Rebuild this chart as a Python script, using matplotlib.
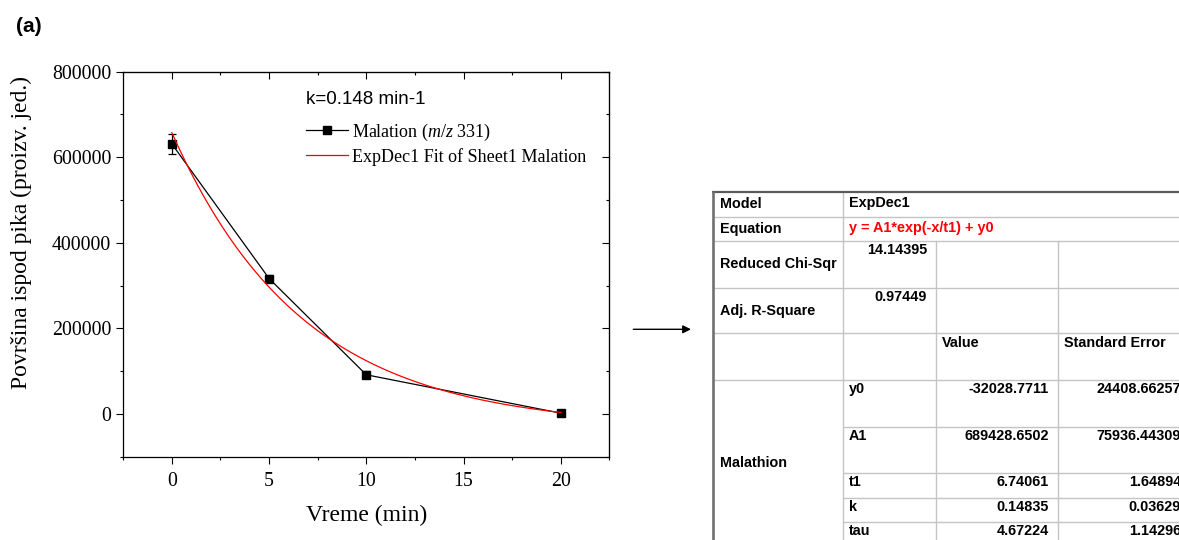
import numpy as np
import matplotlib
matplotlib.use("Agg")
import matplotlib.pyplot as plt
from matplotlib.ticker import MultipleLocator, FixedLocator

# ---------------- data ----------------
time_min = [0, 5, 10, 20]
peak_area = [631000, 316500, 91500, 1800]
peak_err = [24500, 8000, 8000, 2000]

x_ticks = [0, 5, 10, 15, 20]
y_ticks = [0, 200000, 400000, 600000, 800000]

series_label = r"Malation ($m/z$ 331)"
fit_label = "ExpDec1 Fit of Sheet1 Malation"
k_text = "k=0.148 min-1"

# fit report table
model_name = "ExpDec1"
equation = "y = A1*exp(-x/t1) + y0"
red_chi_sqr = "14.14395"
adj_r_sq = "0.97449"
param_names = ["y0", "A1", "t1", "k", "tau"]
param_values = ["-32028.7711", "689428.6502", "6.74061", "0.14835", "4.67224"]
param_errors = ["24408.66257", "75936.44309", "1.64894", "0.03629", "1.14296"]
fit_y0 = -32028.7711
fit_A1 = 689428.6502
fit_t1 = 6.74061

# ---------------- style ----------------
plt.rcParams["font.family"] = ["Liberation Serif", "DejaVu Serif"]
plt.rcParams["mathtext.fontset"] = "custom"
plt.rcParams["mathtext.rm"] = "Liberation Serif"
plt.rcParams["mathtext.it"] = "Liberation Serif:italic"

W, H = 1179, 540
fig = plt.figure(figsize=(W / 100, H / 100), dpi=100)

L, R, T, B = 123.3, 609.3, 71.7, 456.7
ax = fig.add_axes([L / W, 1 - B / H, (R - L) / W, (B - T) / H])

eb = ax.errorbar(time_min, peak_area, yerr=peak_err, fmt="-s", color="black",
                 ms=6, lw=0.9, elinewidth=0.9, capsize=3, capthick=0.9,
                 zorder=3)
xf = np.linspace(time_min[0], time_min[-1], 300)
fit_line, = ax.plot(xf, fit_A1 * np.exp(-xf / fit_t1) + fit_y0, color="red",
                    lw=0.9, zorder=4)

ax.set_xlim(-2.5, 22.5)
ax.set_ylim(-100000, 800000)
ax.xaxis.set_major_locator(FixedLocator(x_ticks))
ax.xaxis.set_minor_locator(MultipleLocator(2.5))
ax.yaxis.set_major_locator(FixedLocator(y_ticks))
ax.yaxis.set_minor_locator(MultipleLocator(100000))
ax.ticklabel_format(axis="y", style="plain", useOffset=False)
for s in ax.spines.values():
    s.set_linewidth(0.9)
ax.tick_params(which="major", direction="out", length=4.8, width=0.8,
               labelsize=14.3, pad=4)
ax.tick_params(axis="x", which="major", pad=6)
ax.tick_params(which="minor", direction="out", length=2.3, width=0.8)

secx = ax.secondary_xaxis("top")
secx.xaxis.set_major_locator(FixedLocator(x_ticks))
secx.xaxis.set_minor_locator(MultipleLocator(2.5))
secx.tick_params(which="major", direction="in", length=4.8, width=0.8, labeltop=False)
secx.tick_params(which="minor", direction="in", length=2.3, width=0.8)
secy = ax.secondary_yaxis("right")
secy.yaxis.set_major_locator(FixedLocator(y_ticks))
secy.yaxis.set_minor_locator(MultipleLocator(100000))
secy.tick_params(which="major", direction="in", length=4.8, width=0.8, labelright=False)
secy.tick_params(which="minor", direction="in", length=2.3, width=0.8)

ax.set_xlabel("Vreme (min)", fontsize=17)
ax.xaxis.set_label_coords(366.3 / W, 1 - 515.5 / H, transform=fig.transFigure)
ax.xaxis.label.set_va("center")
ax.set_ylabel("Površina ispod pika (proizv. jed.)", fontsize=17)
ax.yaxis.set_label_coords(21.7 / W, 1 - 232.5 / H, transform=fig.transFigure)
ax.yaxis.label.set_va("center")

leg = ax.legend([eb.lines[0], fit_line], [series_label, fit_label],
                loc="upper left", bbox_to_anchor=(306 / W, 1 - 121.5 / H),
                bbox_transform=fig.transFigure, frameon=False, fontsize=13,
                handlelength=2.3, handletextpad=0.25, labelspacing=0.28,
                borderpad=0, borderaxespad=0)
fig.text(306 / W, 1 - 100 / H, k_text, fontsize=13.5, va="center", ha="left",
         family=["Liberation Sans", "DejaVu Sans"])

fig.text(29 / W, 1 - 27 / H, "(a)", fontsize=15, fontweight="bold", va="center",
         ha="center", family=["Liberation Sans", "DejaVu Sans"])

# ---------------- overlay (arrow + table) ----------------
tax = fig.add_axes([0, 0, 1, 1])
tax.set_xlim(0, W)
tax.set_ylim(H, 0)
tax.axis("off")

tax.annotate("", xy=(691, 329.3), xytext=(633.3, 329.3),
             arrowprops=dict(arrowstyle="-|>", color="black", lw=1.0,
                             mutation_scale=12, shrinkA=0, shrinkB=0))

inner = "#c4c4c4"
ilw = 1.0
c0, c1, c2, c3 = 713.3, 843.3, 935.7, 1058.3
r_model, r_eq, r_rc, r_adj, r_hdr, r_y0 = 191.7, 217.3, 241.0, 287.7, 333.3, 380.3
r_param = [380.3, 426.7, 473.3, 497.7, 521.7]
bottom = 545

for yy in [r_eq, r_rc, r_adj, r_hdr, r_y0]:
    tax.plot([c0, W + 5], [yy, yy], color=inner, lw=ilw, solid_capstyle="butt")
for yy in r_param[1:]:
    tax.plot([c1, W + 5], [yy, yy], color=inner, lw=ilw, solid_capstyle="butt")
tax.plot([c1, c1], [r_model, bottom], color=inner, lw=ilw)
for cc in [c2, c3]:
    tax.plot([cc, cc], [r_rc, bottom], color=inner, lw=ilw)
tax.plot([c0 - 1, W + 5], [r_model, r_model], color="#5a5a5a", lw=1.6,
         solid_capstyle="butt")
tax.plot([c0, c0], [r_model - 0.5, bottom], color="#707070", lw=1.9,
         solid_capstyle="butt")

tf = dict(fontsize=10.4, fontweight="bold", family=["Liberation Sans", "DejaVu Sans"],
          va="center")
tax.text(720, 204.5, "Model", ha="left", **tf)
tax.text(849, 203, model_name, ha="left", **tf)
tax.text(720, 229, "Equation", ha="left", **tf)
tax.text(849, 228, equation, ha="left", color="red", **tf)
tax.text(720, 264, "Reduced Chi-Sqr", ha="left", **tf)
tax.text(927, 250, red_chi_sqr, ha="right", **tf)
tax.text(720, 310.5, "Adj. R-Square", ha="left", **tf)
tax.text(927, 296.7, adj_r_sq, ha="right", **tf)
tax.text(941.7, 342.7, "Value", ha="left", **tf)
tax.text(1064.3, 342.7, "Standard Error", ha="left", **tf)
tax.text(720, 463.3, "Malathion", ha="left", **tf)
for top, nm, v, e in zip(r_param, param_names, param_values, param_errors):
    yy = top + 9
    tax.text(849, yy, nm, ha="left", **tf)
    tax.text(1049, yy, v, ha="right", **tf)
    tax.text(1181, yy, e, ha="right", **tf)

fig.savefig("out.png", dpi=100)
